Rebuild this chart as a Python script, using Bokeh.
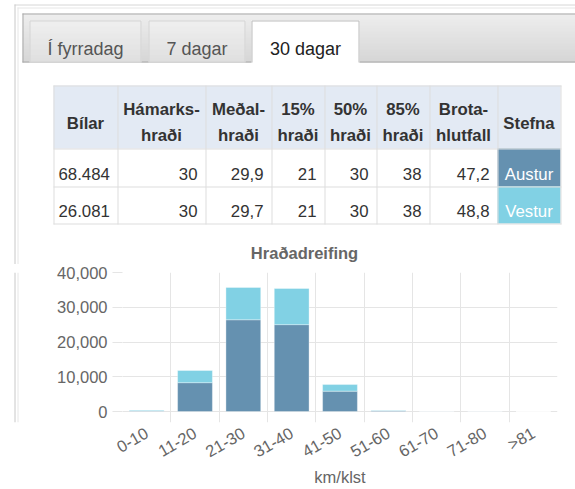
import math
from bokeh.plotting import figure
from bokeh.layouts import column, row
from bokeh.models import ColumnDataSource, FixedTicker, NumeralTickFormatter, Range1d
from bokeh.embed import file_html
from bokeh.resources import INLINE
from bokeh.core.properties import value

# ---------------- data ----------------
tabs = ["Í fyrradag", "7 dagar", "30 dagar"]
active_tab = 2

headers = ["Bílar", "Hámarks-\nhraði", "Meðal-\nhraði", "15%\nhraði", "50%\nhraði",
           "85%\nhraði", "Brota-\nhlutfall", "Stefna"]
bilar = [68484, 26081]
hamarks = [30, 30]
medal = [29.9, 29.7]
p15 = [21, 21]
p50 = [30, 30]
p85 = [38, 38]
brota = [47.2, 48.8]
stefna = ["Austur", "Vestur"]

chart_title = "Hraðadreifing"
x_label = "km/klst"
categories = ["0-10", "11-20", "21-30", "31-40", "41-50", "51-60", "61-70", "71-80", ">81"]
austur = [150, 8300, 26400, 25000, 5850, 250, 60, 60, 0]
vestur = [200, 3500, 9300, 10400, 1900, 100, 40, 30, 0]
y_ticks = [0, 10000, 20000, 30000, 40000]

# ---------------- styles / layout (window pixel coordinates) ----------------
DARK = "#6591b0"
LIGHT = "#81d1e4"
FONT = "Liberation Sans"
X0, Y0 = 0, 0
XR = 575
Y_SPLIT = 264
Y_END = 489
STRIP_R = 20

FRAME_L, FRAME_R, FRAME_T, FRAME_B = 122, 557, 272, 422
Y_ZERO_PX = 411
Y_MAX = 40000
Y_MIN = -Y_MAX * (FRAME_B - Y_ZERO_PX) / (Y_ZERO_PX - FRAME_T)


def hexmix(c1, c2, t):
    a = [int(c1[i:i + 2], 16) for i in (1, 3, 5)]
    b = [int(c2[i:i + 2], 16) for i in (1, 3, 5)]
    return "#%02x%02x%02x" % tuple(round(a[k] + (b[k] - a[k]) * t) for k in range(3))


def fmt_thousands(v):
    return f"{v:,}".replace(",", ".")


def fmt_dec(v):
    return f"{v:.1f}".replace(".", ",")


def blank(fig):
    fig.axis.visible = False
    fig.grid.visible = False
    fig.outline_line_color = None
    fig.background_fill_color = "white"
    fig.border_fill_color = "white"


# ---------------- top figure: tabs + table + title ----------------
top = figure(width=XR - X0, height=Y_SPLIT - Y0, x_range=Range1d(X0, XR), y_range=Range1d(Y_SPLIT, Y0),
             output_backend="svg", toolbar_location=None, min_border=0)
blank(top)

# outer container lines
top.segment(x0=[14, 17], y0=[4.5, 7.5], x1=[XR, XR], y1=[4.5, 7.5],
            line_color=["#d6d6d6", "#e6e6e6"], line_width=1)
top.segment(x0=[14.5, 17.5], y0=[4, 7], x1=[14.5, 17.5], y1=[Y_SPLIT, Y_SPLIT],
            line_color=["#c8c8c8", "#e6e6e6"], line_width=1)

# tab bar with gradient
bar_top, bar_bot, bar_left = 13, 62, 22
n = bar_bot - bar_top
top.quad(left=[bar_left] * n, right=[XR] * n, top=[bar_top + i for i in range(n)],
         bottom=[bar_top + i + 1 for i in range(n)],
         fill_color=[hexmix("#e8e8e8", "#c8c8c8", i / (n - 1)) for i in range(n)], line_color=None)
top.segment(x0=[bar_left, bar_left + 0.5, bar_left], y0=[bar_top + 0.5, bar_top, bar_bot - 0.5],
            x1=[XR, bar_left + 0.5, XR], y1=[bar_top + 0.5, bar_bot, bar_bot - 0.5],
            line_color="#aaaaaa", line_width=1)

tab_left = [29, 148, 251]
tab_right = [141, 245, 359]
tab_top = 20
for i in range(len(tabs)):
    if i == active_tab:
        top.quad(left=[tab_left[i]], right=[tab_right[i]], top=[tab_top], bottom=[bar_bot + 1],
                 fill_color="white", line_color=None)
        lc = "#bdbdbd"
    else:
        m = bar_bot - tab_top
        top.quad(left=[tab_left[i]] * m, right=[tab_right[i]] * m,
                 top=[tab_top + k for k in range(m)], bottom=[tab_top + k + 1 for k in range(m)],
                 fill_color=[hexmix("#f1f1f1", "#e2e2e2", k / (m - 1)) for k in range(m)], line_color=None)
        lc = "#d3d3d3"
    l, r = tab_left[i] + 0.5, tab_right[i] - 0.5
    top.multi_line(xs=[[l, l, r, r]], ys=[[bar_bot, tab_top + 0.5, tab_top + 0.5, bar_bot]],
                   line_color=lc, line_width=1)

tab_src = ColumnDataSource(dict(
    x=[(tab_left[i] + tab_right[i]) / 2 for i in range(len(tabs))],
    y=[48] * len(tabs), text=tabs,
    color=["#212121" if i == active_tab else "#555555" for i in range(len(tabs))]))
top.text(x="x", y="y", text="text", source=tab_src, text_color="color", text_align="center",
         text_baseline="alphabetic", text_font=value(FONT), text_font_size="18px")

# table
cols = [53, 117, 205, 271, 324, 376, 429, 497, 560]
rows_y = [85, 148, 186, 223]
top.quad(left=[cols[0]], right=[cols[-1]], top=[rows_y[0]], bottom=[rows_y[1]],
         fill_color="#e3eaf4", line_color=None)
stefna_colors = [DARK, LIGHT]
top.quad(left=[cols[-2]] * 2, right=[cols[-1]] * 2, top=rows_y[1:3], bottom=rows_y[2:4],
         fill_color=stefna_colors, line_color=None)
top.segment(x0=[cols[0]] * len(rows_y), y0=[y + 0.5 for y in rows_y],
            x1=[cols[-1] + 1] * len(rows_y), y1=[y + 0.5 for y in rows_y], line_color="#dddddd")
top.segment(x0=[c + 0.5 for c in cols], y0=[rows_y[0]] * len(cols),
            x1=[c + 0.5 for c in cols], y1=[rows_y[-1] + 1] * len(cols), line_color="#dddddd")

hx, hy, ht = [], [], []
for i, h in enumerate(headers):
    cx = (cols[i] + cols[i + 1]) / 2
    parts = h.split("\n")
    if len(parts) == 1:
        hx.append(cx); hy.append(122.5); ht.append(parts[0])
    else:
        hx += [cx, cx]; hy += [109, 134.5]; ht += parts
top.text(x=hx, y=hy, text=ht, text_align="center", text_baseline="alphabetic",
         text_font=value(FONT), text_font_size="16.8px", text_font_style="bold", text_color="#333333")

row_base = [173.5, 210.5]
top.text(x=[cols[0] + 5] * 2, y=row_base, text=[fmt_thousands(v) for v in bilar],
         text_align="left", text_baseline="alphabetic", text_font=value(FONT),
         text_font_size="16.8px", text_color="#333333")
num_cols = [[str(v) for v in hamarks], [fmt_dec(v) for v in medal], [str(v) for v in p15],
            [str(v) for v in p50], [str(v) for v in p85], [fmt_dec(v) for v in brota]]
rx, ry, rt = [], [], []
for j, vals in enumerate(num_cols):
    for k, t in enumerate(vals):
        rx.append(cols[j + 2] - 8); ry.append(row_base[k]); rt.append(t)
top.text(x=rx, y=ry, text=rt, text_align="right", text_baseline="alphabetic",
         text_font=value(FONT), text_font_size="16.8px", text_color="#333333")
top.text(x=[(cols[-2] + cols[-1]) / 2] * 2, y=row_base, text=stefna, text_align="center",
         text_baseline="alphabetic", text_font=value(FONT), text_font_size="16.8px", text_color="white")

# chart title
top.text(x=[304], y=[252], text=[chart_title], text_align="center", text_baseline="alphabetic",
         text_font=value(FONT), text_font_size="16.5px", text_font_style="bold", text_color="#666666")

# ---------------- left strip (container border lines) ----------------
H_BOT = Y_END - Y_SPLIT
strip = figure(width=STRIP_R - X0, height=H_BOT, x_range=Range1d(X0, STRIP_R), y_range=Range1d(Y_END, Y_SPLIT),
               output_backend="svg", toolbar_location=None, min_border=0)
blank(strip)
strip.segment(x0=[14.5, 17.5], y0=[Y_SPLIT, Y_SPLIT], x1=[14.5, 17.5], y1=[Y_END, Y_END],
              line_color=["#c8c8c8", "#e6e6e6"], line_width=1)

# ---------------- chart ----------------
xs = [i + 0.5 for i in range(len(categories))]
src = ColumnDataSource(dict(x=xs, austur=austur, vestur=vestur))
chart = figure(width=XR - STRIP_R, height=H_BOT, x_range=Range1d(0, len(categories)),
               y_range=Range1d(Y_MIN, Y_MAX), output_backend="svg", toolbar_location=None,
               min_border_left=FRAME_L - STRIP_R, min_border_right=XR - FRAME_R,
               min_border_top=FRAME_T - Y_SPLIT, min_border_bottom=Y_END - FRAME_B)
chart.outline_line_color = None
chart.background_fill_color = "white"
chart.border_fill_color = "white"
chart.vbar_stack(["austur", "vestur"], x="x", width=0.72, color=[DARK, LIGHT], source=src,
                 line_color="white", line_alpha=0.35, line_width=1)

GRID = "#e5e5e5"
chart.xgrid.ticker = FixedTicker(ticks=list(range(len(categories) + 1)))
chart.xgrid.grid_line_color = GRID
chart.ygrid.ticker = FixedTicker(ticks=y_ticks)
chart.ygrid.grid_line_color = GRID

xa = chart.xaxis[0]
xa.ticker = FixedTicker(ticks=xs)
xa.major_label_overrides = {x: c for x, c in zip(xs, categories)}
xa.major_label_orientation = math.radians(30)
xa.axis_line_color = None
xa.major_tick_line_color = None
xa.minor_tick_line_color = None
xa.major_label_standoff = 3
xa.major_label_text_font = FONT
xa.major_label_text_font_size = "16.5px"
xa.major_label_text_color = "#666666"
xa.axis_label = x_label
xa.axis_label_text_font = FONT
xa.axis_label_text_font_size = "16.5px"
xa.axis_label_text_font_style = "normal"
xa.axis_label_text_color = "#666666"
xa.axis_label_standoff = -3

ya = chart.yaxis[0]
ya.ticker = FixedTicker(ticks=y_ticks)
ya.formatter = NumeralTickFormatter(format="0,0")
ya.axis_line_color = None
ya.major_tick_in = 0
ya.major_tick_out = 10
ya.major_tick_line_color = GRID
ya.minor_tick_line_color = None
ya.major_label_standoff = 5
ya.major_label_text_font = FONT
ya.major_label_text_font_size = "16.5px"
ya.major_label_text_color = "#666666"

layout = column(top, row(strip, chart))
open("out.html", "w").write(file_html(layout, INLINE))
